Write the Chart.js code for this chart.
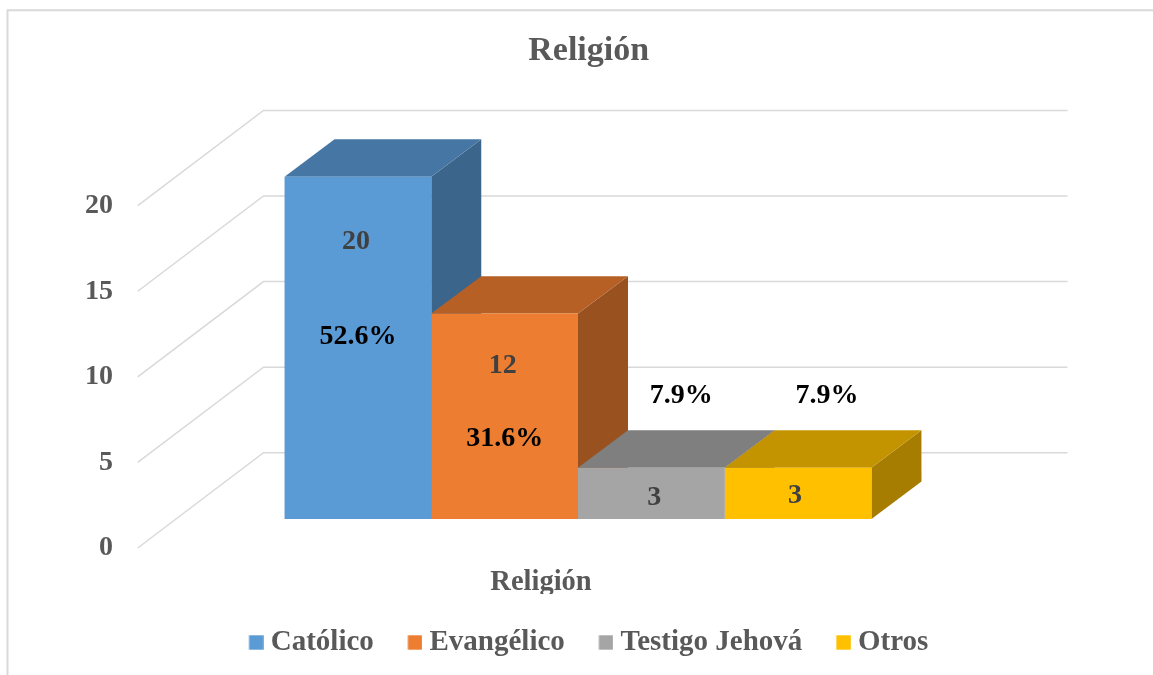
<!DOCTYPE html>
<html>
<head>
<meta charset="utf-8">
<script src="https://cdn.jsdelivr.net/npm/chart.js@4.4.1/dist/chart.umd.min.js"></script>
<style>
html,body{margin:0;padding:0;background:#fff;}
#wrap{position:relative;width:1153px;height:675px;}
</style>
</head>
<body>
<div id="wrap"><canvas id="c" width="1153" height="675"></canvas></div>
<script>
// ---- data ----
const categories = ['Religión'];
const seriesNames = ['Católico', 'Evangélico', 'Testigo Jehová', 'Otros'];
const seriesValues = [20, 12, 3, 3];
const yTicks = [0, 5, 10, 15, 20];
const seriesColors = ['#5B9BD5', '#ED7D31', '#A5A5A5', '#FFC000'];
const chartTitle = 'Religión';

// ---- styling ----
const FONT = "'Liberation Serif', 'Times New Roman', serif";
const GRID = '#D9D9D9';
const TEXT = '#595959';
const depth = { frontDx: -38.3, frontDy: 29, backDx: 87.5, backDy: -66.3, barDx: 50, barDy: -37.4 };
// label nudges (pixels) relative to bar top / bar centre
const valueNudge = [[-2, 65], [-2, 52], [3, 30], [-3, 28]];
const pctNudge = [[0, 160], [0, 125], [30, -72], [29, -72]];

function shade(hex, f) {
  const n = parseInt(hex.slice(1), 16);
  const r = Math.round(((n >> 16) & 255) * f);
  const g = Math.round(((n >> 8) & 255) * f);
  const b = Math.round((n & 255) * f);
  return `rgb(${r},${g},${b})`;
}

function poly(ctx, pts) {
  ctx.beginPath();
  ctx.moveTo(pts[0][0], pts[0][1]);
  for (let i = 1; i < pts.length; i++) ctx.lineTo(pts[i][0], pts[i][1]);
  ctx.closePath();
  ctx.fill();
}

// legend swatch: square placed at the left of a wider transparent image
function swatch(color) {
  const c = document.createElement('canvas');
  c.width = 22; c.height = 15;
  const g = c.getContext('2d');
  g.fillStyle = color;
  g.fillRect(7.4, 0.3, 14.4, 14.4);
  return c;
}
const swatches = seriesColors.map(swatch);

const frame3d = {
  id: 'frame3d',
  beforeDraw(chart) {
    const ctx = chart.ctx;
    ctx.save();
    ctx.strokeStyle = GRID;
    ctx.lineWidth = 2;
    ctx.beginPath();
    ctx.moveTo(7.5, 675);
    ctx.lineTo(7.5, 10.3);
    ctx.lineTo(1153, 10.3);
    ctx.stroke();
    ctx.restore();
  },
  beforeDatasetsDraw(chart) {
    const { ctx, chartArea: ca } = chart;
    const y = chart.scales.y;
    ctx.save();
    ctx.strokeStyle = GRID;
    ctx.lineWidth = 1.5;
    y.ticks.forEach(t => {
      const py = y.getPixelForValue(t.value);
      ctx.beginPath();
      ctx.moveTo(ca.left + depth.frontDx, py + depth.frontDy);
      ctx.lineTo(ca.left + depth.backDx, py + depth.backDy);
      ctx.lineTo(ca.right + depth.backDx, py + depth.backDy);
      ctx.stroke();
    });
    chart.data.datasets.forEach((ds, i) => {
      const el = chart.getDatasetMeta(i).data[0];
      const l = el.x - el.width / 2, r = el.x + el.width / 2, t = el.y, b = el.base;
      const dx = depth.barDx, dy = depth.barDy;
      ctx.fillStyle = shade(ds.backgroundColor, 0.65);
      poly(ctx, [[r, t], [r + dx, t + dy], [r + dx, b + dy], [r, b]]);
      ctx.fillStyle = shade(ds.backgroundColor, 0.77);
      poly(ctx, [[l, t], [r, t], [r + dx, t + dy], [l + dx, t + dy]]);
    });
    ctx.restore();
  }
};

const barLabels = {
  id: 'barLabels',
  afterDatasetsDraw(chart) {
    const ctx = chart.ctx;
    const total = seriesValues.reduce((a, b) => a + b, 0);
    ctx.save();
    ctx.font = `bold 28px ${FONT}`;
    ctx.textAlign = 'center';
    ctx.textBaseline = 'middle';
    chart.data.datasets.forEach((ds, i) => {
      const el = chart.getDatasetMeta(i).data[0];
      const v = ds.data[0];
      ctx.fillStyle = '#404040';
      ctx.fillText(String(v), el.x + valueNudge[i][0], el.y + valueNudge[i][1]);
      ctx.fillStyle = '#000000';
      ctx.fillText((v / total * 100).toFixed(1) + '%', el.x + pctNudge[i][0], el.y + pctNudge[i][1]);
    });
    ctx.restore();
  }
};

new Chart(document.getElementById('c'), {
  type: 'bar',
  data: {
    labels: categories,
    datasets: seriesNames.map((name, i) => ({
      label: name,
      data: [seriesValues[i]],
      backgroundColor: seriesColors[i],
      borderWidth: 0
    }))
  },
  options: {
    responsive: false,
    animation: false,
    devicePixelRatio: 1,
    layout: { padding: { top: 0, left: 86, right: 61.6, bottom: 8 } },
    datasets: { bar: { categoryPercentage: 0.73, barPercentage: 1 } },
    scales: {
      x: {
        grid: { display: false, drawTicks: false },
        border: { display: false },
        ticks: {
          font: { family: FONT, size: 28.5, weight: 'bold', lineHeight: 1.2 },
          color: TEXT, padding: 46.3, labelOffset: -37, maxRotation: 0
        },
        afterFit(s) { s.height = 75; }
      },
      y: {
        min: 0, max: 20,
        grid: { display: false, drawTicks: false },
        border: { display: false },
        ticks: {
          font: { family: FONT, size: 28, weight: 'bold', lineHeight: 1.2 },
          color: TEXT, padding: 63, labelOffset: 29
        },
        afterBuildTicks(s) { s.ticks = yTicks.map(v => ({ value: v })); },
        afterFit(s) { s.width = 90; }
      },
      yR: {
        type: 'linear',
        position: 'right',
        display: true,
        grid: { display: false, drawTicks: false },
        border: { display: false },
        ticks: { display: false },
        afterFit(s) { s.width = 111.4; }
      }
    },
    plugins: {
      title: {
        display: true, text: chartTitle, color: TEXT,
        font: { family: FONT, size: 34, weight: 'bold', lineHeight: 1.2 },
        padding: { top: 30.8, bottom: 105.1 }
      },
      legend: {
        position: 'bottom',
        labels: {
          usePointStyle: true,
          pointStyleWidth: 7.2,
          boxHeight: 14.4,
          padding: 34,
          color: TEXT,
          font: { family: FONT, size: 29, weight: 'bold' },
          generateLabels(chart) {
            const items = Chart.defaults.plugins.legend.labels.generateLabels(chart);
            items.forEach((it, i) => { it.pointStyle = swatches[i]; });
            return items;
          }
        }
      },
      tooltip: { enabled: false }
    }
  },
  plugins: [frame3d, barLabels]
});
</script>
</body>
</html>
